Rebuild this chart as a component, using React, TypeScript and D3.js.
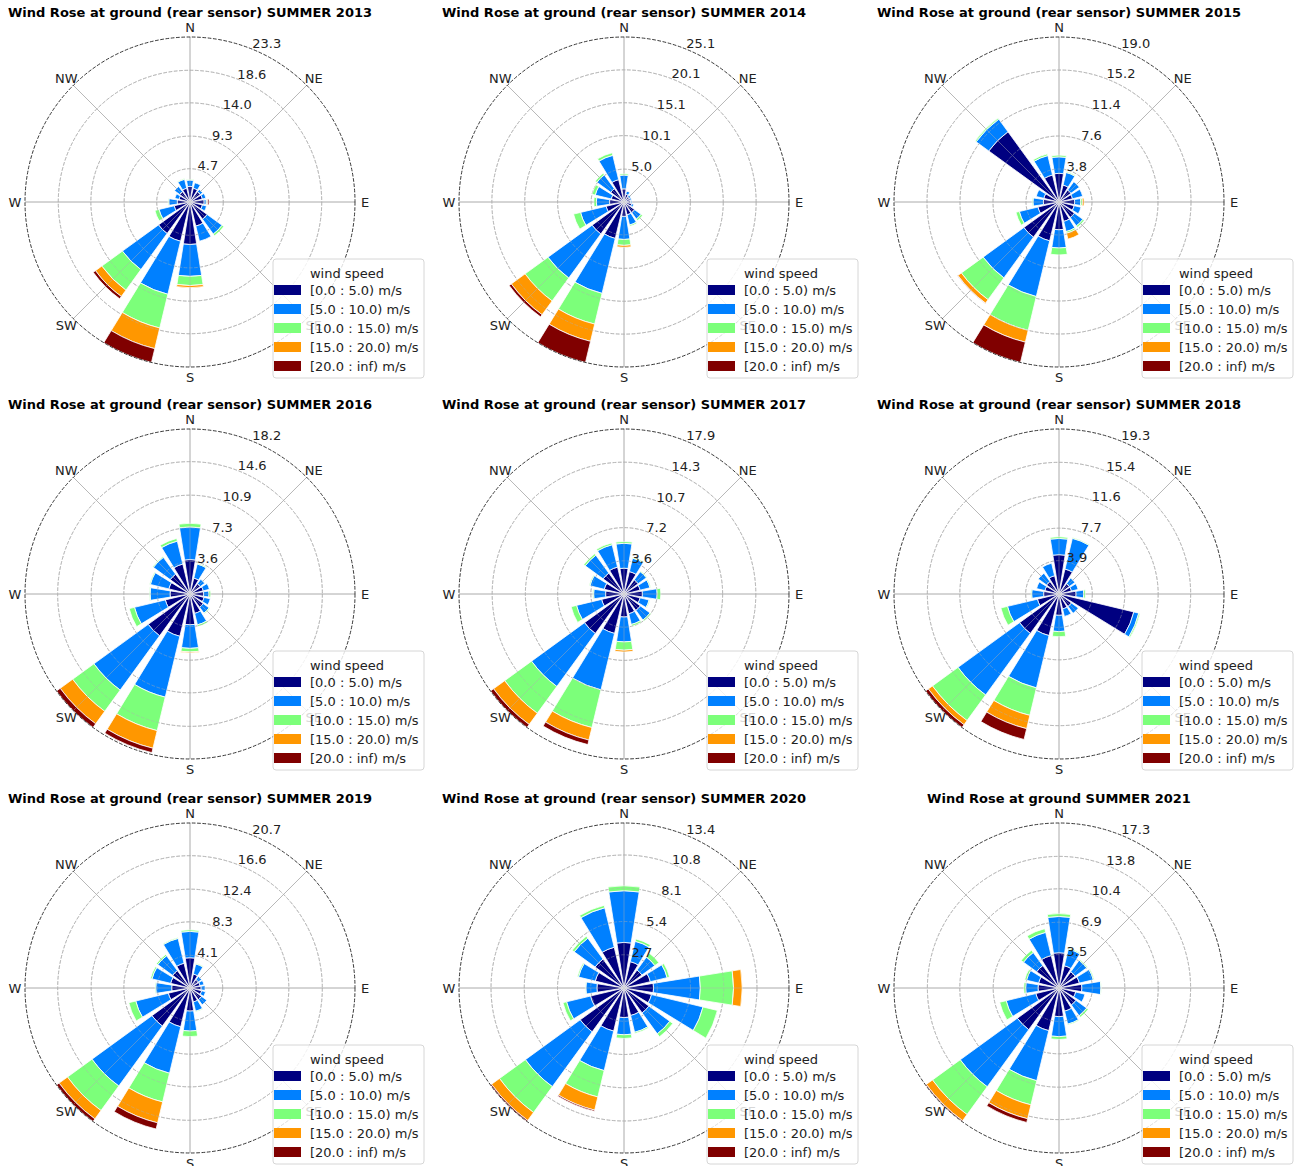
import React from 'react';
import * as d3 from 'd3';

const DIRECTIONS = ['N', 'NNE', 'NE', 'ENE', 'E', 'ESE', 'SE', 'SSE', 'S', 'SSW', 'SW', 'WSW', 'W', 'WNW', 'NW', 'NNW'];
const COMPASS_LABELS = ['N', 'NE', 'E', 'SE', 'S', 'SW', 'W', 'NW'];
const SPEED_BINS = ['[0.0 : 5.0) m/s', '[5.0 : 10.0) m/s', '[10.0 : 15.0) m/s', '[15.0 : 20.0) m/s', '[20.0 : inf) m/s'];
const BIN_COLORS = ['#000080', '#0080ff', '#7cff7a', '#ff9700', '#800000'];
const LEGEND_TITLE = 'wind speed';

const TITLES = [
  'Wind Rose at ground (rear sensor) SUMMER 2013',
  'Wind Rose at ground (rear sensor) SUMMER 2014',
  'Wind Rose at ground (rear sensor) SUMMER 2015',
  'Wind Rose at ground (rear sensor) SUMMER 2016',
  'Wind Rose at ground (rear sensor) SUMMER 2017',
  'Wind Rose at ground (rear sensor) SUMMER 2018',
  'Wind Rose at ground (rear sensor) SUMMER 2019',
  'Wind Rose at ground (rear sensor) SUMMER 2020',
  'Wind Rose at ground SUMMER 2021',
];

const TICKS_2013 = ['4.7', '9.3', '14.0', '18.6', '23.3'];
const TICKS_2014 = ['5.0', '10.1', '15.1', '20.1', '25.1'];
const TICKS_2015 = ['3.8', '7.6', '11.4', '15.2', '19.0'];
const TICKS_2016 = ['3.6', '7.3', '10.9', '14.6', '18.2'];
const TICKS_2017 = ['3.6', '7.2', '10.7', '14.3', '17.9'];
const TICKS_2018 = ['3.9', '7.7', '11.6', '15.4', '19.3'];
const TICKS_2019 = ['4.1', '8.3', '12.4', '16.6', '20.7'];
const TICKS_2020 = ['2.7', '5.4', '8.1', '10.8', '13.4'];
const TICKS_2021 = ['3.5', '6.9', '10.4', '13.8', '17.3'];

// frequency (%) per direction (N, NNE, ... NNW) per speed bin
const FREQ_2013 = [
  [2.2, 0.9, 0.1, 0, 0], [2.0, 0.8, 0, 0, 0], [1.8, 0.4, 0, 0, 0], [1.8, 0.5, 0, 0, 0],
  [2.0, 0.3, 0.1, 0.1, 0.2], [1.8, 0.6, 0, 0, 0], [3.0, 2.6, 0.3, 0, 0], [3.5, 2.2, 0, 0, 0],
  [6.0, 4.5, 1.3, 0.3, 0], [5.7, 7.7, 4.9, 3.0, 2.0], [5.5, 6.3, 3.6, 1.1, 0.4], [2.3, 2.2, 0.6, 0, 0],
  [1.8, 1.2, 0.1, 0, 0], [1.6, 0.6, 0, 0, 0], [1.8, 0.9, 0, 0, 0], [2.0, 1.3, 0.1, 0, 0],
];
const FREQ_2014 = [
  [2.0, 2.1, 0.2, 0, 0], [1.2, 0.5, 0, 0, 0], [1.0, 0.3, 0, 0, 0], [1.0, 0.2, 0, 0, 0],
  [1.0, 0.2, 0, 0, 0], [1.2, 0.3, 0, 0, 0], [2.0, 1.2, 0.3, 0, 0], [2.0, 1.6, 0.2, 0, 0],
  [2.2, 3.5, 0.9, 0.3, 0], [5.7, 8.6, 4.8, 2.7, 3.3], [6.0, 8.3, 4.3, 2.6, 0.4], [2.8, 4.0, 1.1, 0, 0],
  [2.2, 2.0, 0.4, 0, 0], [2.0, 2.5, 0.5, 0, 0], [2.5, 2.6, 0.3, 0, 0], [3.5, 3.8, 0.4, 0, 0],
];
const FREQ_2015 = [
  [3.3, 1.9, 0.2, 0, 0], [2.0, 1.5, 0.1, 0, 0], [1.7, 1.2, 0, 0, 0], [1.6, 1.2, 0, 0, 0],
  [1.8, 0.7, 0.2, 0.2, 0], [1.8, 0.8, 0, 0, 0], [2.2, 1.2, 0.2, 0, 0], [2.3, 1.2, 0.2, 0.7, 0],
  [3.2, 2.1, 0.8, 0, 0], [4.6, 6.6, 4.0, 1.4, 2.4], [5.0, 5.8, 3.1, 0.5, 0.05], [2.5, 2.2, 0.4, 0, 0],
  [1.8, 1.2, 0.1, 0, 0], [1.8, 0.9, 0, 0, 0], [10.0, 1.8, 0.15, 0, 0], [3.2, 2.3, 0.2, 0, 0],
];
const FREQ_2016 = [
  [3.8, 3.6, 0.4, 0, 0], [1.8, 1.6, 0.1, 0, 0], [1.4, 0.6, 0, 0, 0], [1.5, 0.7, 0, 0, 0],
  [1.5, 0.6, 0.2, 0, 0], [1.6, 0.7, 0, 0, 0], [1.8, 0.8, 0.1, 0, 0], [2.2, 1.3, 0.2, 0, 0],
  [3.4, 2.6, 0.4, 0.1, 0], [4.8, 6.9, 3.8, 2.0, 0.5], [5.7, 7.4, 2.9, 1.7, 0.5], [2.8, 3.5, 0.6, 0, 0],
  [2.2, 2.2, 0.1, 0, 0], [2.4, 2.1, 0.1, 0, 0], [2.7, 2.3, 0.1, 0, 0], [3.4, 2.6, 0.3, 0, 0],
];
const FREQ_2017 = [
  [2.8, 2.7, 0.2, 0, 0], [2.5, 1.5, 0.1, 0, 0], [1.9, 1.1, 0.1, 0, 0], [1.8, 1.1, 0.1, 0, 0],
  [2.0, 1.6, 0.4, 0, 0], [1.8, 1.0, 0.1, 0, 0], [2.2, 1.3, 0.15, 0, 0], [2.2, 1.2, 0.2, 0, 0],
  [2.5, 2.7, 0.9, 0.2, 0], [4.4, 6.3, 4.2, 1.4, 0.5], [5.3, 7.1, 3.6, 1.5, 0.4], [2.5, 2.8, 0.6, 0, 0],
  [2.0, 1.3, 0.1, 0, 0], [2.2, 1.6, 0.1, 0, 0], [2.8, 2.4, 0.2, 0, 0], [3.0, 2.5, 0.2, 0, 0],
];
const FREQ_2018 = [
  [4.6, 1.9, 0.2, 0, 0], [3.0, 3.7, 0.1, 0, 0], [1.5, 0.8, 0, 0, 0], [1.5, 0.8, 0, 0, 0],
  [2.0, 0.9, 0.2, 0, 0], [9.0, 0.6, 0.15, 0, 0], [1.8, 1.0, 0, 0, 0], [1.8, 0.9, 0, 0, 0],
  [2.5, 1.9, 0.6, 0, 0], [5.0, 6.3, 3.3, 1.6, 1.3], [5.7, 8.9, 3.7, 0.6, 0.4], [2.6, 3.6, 0.8, 0, 0],
  [1.8, 1.4, 0.1, 0, 0], [1.7, 1.0, 0, 0, 0], [1.8, 1.2, 0, 0, 0], [2.2, 1.5, 0, 0, 0],
];
const FREQ_2019 = [
  [3.8, 3.3, 0.2, 0, 0], [1.8, 1.3, 0.1, 0, 0], [1.3, 0.5, 0, 0, 0], [1.3, 0.5, 0, 0, 0],
  [1.4, 0.5, 0, 0, 0], [1.5, 0.5, 0, 0, 0], [1.8, 0.8, 0, 0, 0], [1.8, 1.2, 0.1, 0, 0],
  [2.9, 2.5, 0.7, 0, 0], [5.0, 6.0, 3.7, 2.7, 0.8], [5.9, 9.3, 3.8, 1.3, 0.4], [2.8, 4.2, 0.9, 0, 0],
  [2.3, 2.0, 0.1, 0, 0], [2.5, 2.4, 0.2, 0, 0], [2.7, 2.3, 0.2, 0, 0], [3.2, 3.2, 0.1, 0, 0],
];
const FREQ_2020 = [
  [3.7, 4.2, 0.4, 0, 0], [2.2, 1.7, 0.2, 0, 0], [1.8, 1.3, 0.4, 0, 0], [2.2, 1.4, 0.2, 0, 0],
  [2.4, 3.8, 2.7, 0.7, 0], [2.3, 4.3, 1.2, 0, 0], [2.5, 2.1, 0.3, 0, 0], [2.3, 1.4, 0.1, 0, 0],
  [2.4, 1.4, 0.3, 0, 0], [3.6, 3.3, 2.2, 1.1, 0.1], [4.4, 5.5, 2.6, 0.8, 0.1], [2.8, 2.0, 0.3, 0, 0],
  [2.2, 0.9, 0.05, 0, 0], [2.4, 1.4, 0.1, 0, 0], [2.9, 2.1, 0.2, 0, 0], [3.4, 3.3, 0.2, 0, 0],
];
const FREQ_2021 = [
  [3.7, 3.8, 0.3, 0, 0], [2.4, 1.8, 0.1, 0, 0], [2.1, 1.5, 0.1, 0, 0], [2.2, 1.5, 0.1, 0, 0],
  [2.4, 2.0, 0.05, 0, 0], [1.8, 1.0, 0, 0, 0], [2.2, 1.4, 0.2, 0, 0], [2.5, 1.4, 0.1, 0, 0],
  [3.0, 2.1, 0.3, 0, 0], [4.6, 5.4, 2.6, 1.5, 0.4], [5.4, 7.4, 3.6, 0.8, 0.1], [2.5, 3.2, 0.7, 0, 0],
  [2.2, 1.3, 0.2, 0, 0], [2.2, 1.3, 0.2, 0, 0], [2.9, 1.7, 0.3, 0, 0], [3.5, 2.5, 0.4, 0, 0],
];

const PANELS = [
  { title: TITLES[0], ticks: TICKS_2013, freq: FREQ_2013 },
  { title: TITLES[1], ticks: TICKS_2014, freq: FREQ_2014 },
  { title: TITLES[2], ticks: TICKS_2015, freq: FREQ_2015 },
  { title: TITLES[3], ticks: TICKS_2016, freq: FREQ_2016 },
  { title: TITLES[4], ticks: TICKS_2017, freq: FREQ_2017 },
  { title: TITLES[5], ticks: TICKS_2018, freq: FREQ_2018 },
  { title: TITLES[6], ticks: TICKS_2019, freq: FREQ_2019 },
  { title: TITLES[7], ticks: TICKS_2020, freq: FREQ_2020 },
  { title: TITLES[8], ticks: TICKS_2021, freq: FREQ_2021 },
];

const WIDTH = 1296;
const HEIGHT = 1166;
const RADIUS = 165;
const COL_X = [190, 624, 1059];
const ROW_Y = [202, 594, 988];
const FONT = '"DejaVu Sans", Verdana, sans-serif';

type Panel = { title: string; ticks: string[]; freq: number[][] };

function Rose({ panel, cx, cy }: { panel: Panel; cx: number; cy: number }) {
  const rmax = +panel.ticks[panel.ticks.length - 1];
  const r = d3.scaleLinear().domain([0, rmax]).range([0, RADIUS]);
  const theta = d3.scaleLinear().domain([0, DIRECTIONS.length]).range([0, 2 * Math.PI]);
  const half = (theta(1) * 0.8) / 2;
  const arc = d3.arc<any>();

  const bars: { d: string; color: string; key: string }[] = [];
  panel.freq.forEach((bins, i) => {
    let cum = 0;
    const a = theta(i);
    bins.forEach((v, j) => {
      if (v > 0) {
        const d = arc({
          innerRadius: r(cum),
          outerRadius: r(cum + v),
          startAngle: a - half,
          endAngle: a + half,
        }) as string;
        bars.push({ d, color: BIN_COLORS[j], key: `${i}-${j}` });
      }
      cum += v;
    });
  });

  const ringVals = panel.ticks.map((t) => +t);
  const labelAngle = (25.6 * Math.PI) / 180;
  const compassAngle = d3.scaleLinear().domain([0, COMPASS_LABELS.length]).range([0, 2 * Math.PI]);

  const grid = (opacity: number) => (
    <g opacity={opacity}>
      {ringVals.slice(0, -1).map((v, k) => (
        <circle key={k} r={r(v)} fill="none" stroke="#b0b0b0" strokeWidth={0.8} strokeDasharray="3.7 1.6" />
      ))}
      {COMPASS_LABELS.map((_, k) => {
        const a = compassAngle(k);
        return (
          <line key={k} x1={0} y1={0} x2={RADIUS * Math.sin(a)} y2={-RADIUS * Math.cos(a)} stroke="#b0b0b0" strokeWidth={0.8} />
        );
      })}
    </g>
  );

  return (
    <g transform={`translate(${cx},${cy})`}>
      <text x={0} y={-185} textAnchor="middle" fontFamily={FONT} fontWeight="bold" fontSize={13} fill="#000">
        {panel.title}
      </text>
      {grid(1)}
      {bars.map((b) => (
        <path key={b.key} d={b.d} fill={b.color} stroke="#ffffff" strokeWidth={0.8} />
      ))}
      {grid(0.55)}
      <circle r={RADIUS} fill="none" stroke="#222" strokeWidth={0.9} strokeDasharray="3.7 1.6" />
      {panel.ticks.map((t, k) => {
        const rr = r(ringVals[k]) * 1.034;
        return (
          <text
            key={t + k}
            x={rr * Math.sin(labelAngle) + 3}
            y={-rr * Math.cos(labelAngle) - 5}
            textAnchor="middle"
            dominantBaseline="central"
            fontFamily={FONT}
            fontSize={13}
            fill="#222"
          >
            {t}
          </text>
        );
      })}
      {COMPASS_LABELS.map((lab, k) => {
        const a = compassAngle(k);
        return (
          <text
            key={lab}
            x={175 * Math.sin(a)}
            y={-175 * Math.cos(a)}
            textAnchor="middle"
            dominantBaseline="central"
            fontFamily={FONT}
            fontSize={13}
            fill="#222"
          >
            {lab}
          </text>
        );
      })}
      <g transform="translate(83,57)">
        <rect x={0} y={0} width={151} height={119} rx={3} fill="#ffffff" fillOpacity={0.82} stroke="#d6d6d6" strokeWidth={1} />
        <text x={74} y={14} textAnchor="middle" dominantBaseline="central" fontFamily={FONT} fontSize={13} fill="#222">
          {LEGEND_TITLE}
        </text>
        {SPEED_BINS.map((lab, j) => (
          <g key={lab} transform={`translate(0,${31 + j * 19})`}>
            <rect x={1} y={-5} width={27} height={10} fill={BIN_COLORS[j]} />
            <text x={37} y={0} dominantBaseline="central" fontFamily={FONT} fontSize={13} fill="#222">
              {lab}
            </text>
          </g>
        ))}
      </g>
    </g>
  );
}

export default function App() {
  return (
    <svg
      width={WIDTH}
      height={HEIGHT}
      viewBox={`0 0 ${WIDTH} ${HEIGHT}`}
      style={{ position: 'absolute', left: 0, top: 0, background: '#fff' }}
    >
      <rect width={WIDTH} height={HEIGHT} fill="#fff" />
      {PANELS.map((p, i) => (
        <Rose key={p.title} panel={p} cx={COL_X[i % 3]} cy={ROW_Y[Math.floor(i / 3)]} />
      ))}
    </svg>
  );
}
